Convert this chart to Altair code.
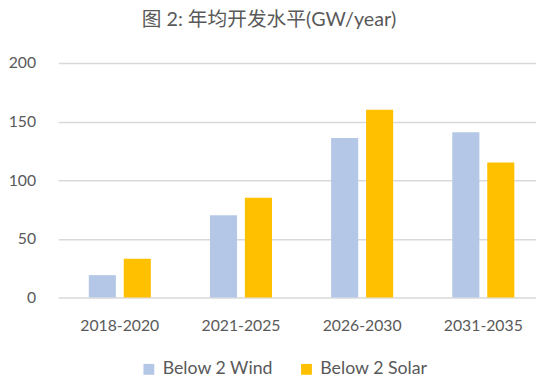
import altair as alt
import pandas as pd

periods = ["2018-2020", "2021-2025", "2026-2030", "2031-2035"]
series = ["Below 2 Wind", "Below 2 Solar"]
wind = [19, 70, 136, 141]
solar = [33, 85, 160, 115]
colors = ["#b4c7e7", "#ffc000"]

rows = []
for p, w, s in zip(periods, wind, solar):
    rows.append({"period": p, "series": series[0], "value": w})
    rows.append({"period": p, "series": series[1], "value": s})
df = pd.DataFrame(rows)

txt = "#595959"
font = "Lato"

chart = alt.Chart(df).mark_bar().encode(
    x=alt.X("period:N", sort=periods, title=None,
            scale=alt.Scale(range=[1, 495], paddingInner=0.488, paddingOuter=0.252),
            axis=alt.Axis(labelAngle=0, labelFont=font, labelFontSize=16, labelColor=txt,
                          ticks=False, domain=False, labelPadding=21)),
    xOffset=alt.XOffset("series:N", sort=series,
                        scale=alt.Scale(paddingInner=0.225, paddingOuter=0)),
    y=alt.Y("value:Q", title=None,
            scale=alt.Scale(domain=[0, 200]),
            axis=alt.Axis(values=[0, 50, 100, 150, 200], labelFont=font, labelFontSize=16,
                          labelColor=txt, ticks=False, domain=False, labelPadding=22,
                          gridColor="#d9d9d9", gridWidth=1.5)),
    color=alt.Color("series:N", sort=series,
                    scale=alt.Scale(domain=series, range=colors),
                    legend=alt.Legend(title=None, orient="none", direction="horizontal",
                                      legendX=84, legendY=302, symbolType="square",
                                      symbolSize=121, symbolStrokeWidth=0,
                                      labelFont=font, labelFontSize=18, labelColor=txt,
                                      columnPadding=24, labelOffset=5)),
).properties(
    width=486, height=238,
    title=alt.TitleParams("图 2: 年均开发水平(GW/year)", font="Lato, Noto Sans CJK SC",
                          fontSize=20, fontWeight="normal", color=txt,
                          anchor="middle", dx=-28, offset=26),
    padding={"left": 50, "top": 53, "right": 0, "bottom": 80},
    autosize=alt.AutoSizeParams(type="none"),
).configure_view(stroke=None)

chart.save("out.html", embed_options={"renderer": "svg", "actions": False})
